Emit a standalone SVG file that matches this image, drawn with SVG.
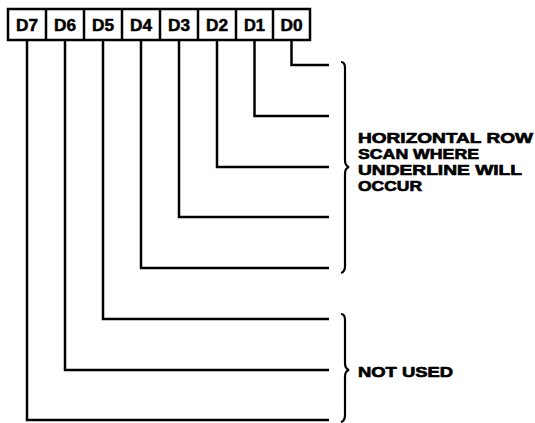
<svg xmlns="http://www.w3.org/2000/svg" width="535" height="423" viewBox="0 0 535 423">
<style>
.box{fill:#fff;stroke:#000;stroke-width:2.5}
.lbl{font-family:"Liberation Sans",Arial,sans-serif;font-weight:bold;font-size:16px;fill:#000;stroke:#000;stroke-width:0.5;text-anchor:middle}
.txt{font-family:"Liberation Sans",Arial,sans-serif;font-weight:bold;font-size:15.5px;fill:#000;stroke:#000;stroke-width:0.7}
.ln{fill:none;stroke:#000;stroke-width:2.5}
.br{fill:none;stroke:#000;stroke-width:2.2}
</style>
<rect width="535" height="423" fill="#fff"/>
<g id="register">
<rect class="box" x="8" y="9" width="302" height="31"/>
<g class="ln"><line x1="46" y1="9" x2="46" y2="40"/><line x1="84" y1="9" x2="84" y2="40"/><line x1="122" y1="9" x2="122" y2="40"/><line x1="160" y1="9" x2="160" y2="40"/><line x1="198" y1="9" x2="198" y2="40"/><line x1="236" y1="9" x2="236" y2="40"/><line x1="273" y1="9" x2="273" y2="40"/></g>
</g>
<g id="D7"><text class="lbl" x="27" y="30.5" textLength="22" lengthAdjust="spacingAndGlyphs">D7</text></g>
<g id="D6"><text class="lbl" x="65" y="30.5" textLength="22" lengthAdjust="spacingAndGlyphs">D6</text></g>
<g id="D5"><text class="lbl" x="103" y="30.5" textLength="22" lengthAdjust="spacingAndGlyphs">D5</text></g>
<g id="D4"><text class="lbl" x="141" y="30.5" textLength="22" lengthAdjust="spacingAndGlyphs">D4</text></g>
<g id="D3"><text class="lbl" x="179" y="30.5" textLength="22" lengthAdjust="spacingAndGlyphs">D3</text></g>
<g id="D2"><text class="lbl" x="217" y="30.5" textLength="22" lengthAdjust="spacingAndGlyphs">D2</text></g>
<g id="D1"><text class="lbl" x="254.5" y="30.5" textLength="21" lengthAdjust="spacingAndGlyphs">D1</text></g>
<g id="D0"><text class="lbl" x="291.5" y="30.5" textLength="22" lengthAdjust="spacingAndGlyphs">D0</text></g>
<g id="connectors" class="ln">
<polyline points="291.5,40 291.5,65 329,65"/>
<polyline points="254.5,40 254.5,116 329,116"/>
<polyline points="217,40 217,167 329,167"/>
<polyline points="179,40 179,217 329,217"/>
<polyline points="141,40 141,268 329,268"/>
<polyline points="103,40 103,319 329,319"/>
<polyline points="65,40 65,370 329,370"/>
<polyline points="27,40 27,420 329,420"/>
</g>
<g id="brace-used">
<path class="br" d="M341,62 Q345,62 345,68 L345,160 Q345,166 349,167 Q345,168 345,174 L345,266 Q345,272 341,273"/>
<text class="txt" x="358" y="142.5" textLength="175" lengthAdjust="spacingAndGlyphs">HORIZONTAL ROW</text>
<text class="txt" x="358" y="158.5" textLength="121" lengthAdjust="spacingAndGlyphs">SCAN WHERE</text>
<text class="txt" x="358" y="174.5" textLength="164" lengthAdjust="spacingAndGlyphs">UNDERLINE WILL</text>
<text class="txt" x="358" y="190.5" textLength="64" lengthAdjust="spacingAndGlyphs">OCCUR</text>
</g>
<g id="brace-notused">
<path class="br" d="M341,314 Q345,314 345,320 L345,363 Q345,369 349,370 Q345,371 345,377 L345,415 Q345,421 341,422"/>
<text class="txt" x="358" y="377" textLength="95" lengthAdjust="spacingAndGlyphs">NOT USED</text>
</g>
</svg>
